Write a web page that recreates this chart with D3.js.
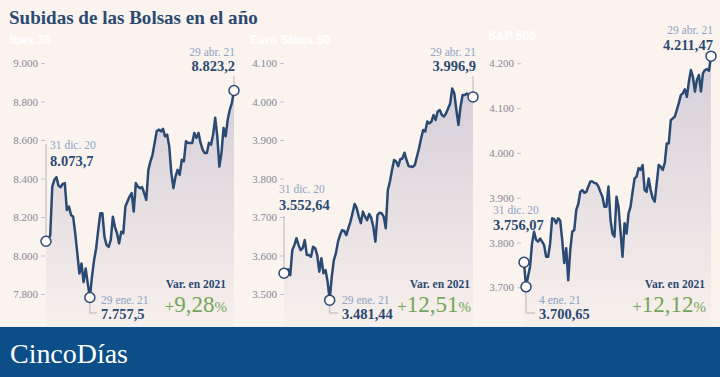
<!DOCTYPE html>
<html>
<head>
<meta charset="utf-8">
<script src="https://cdn.jsdelivr.net/npm/d3@7"></script>
<style>
  body { margin: 0; background: #fbf4ee; }
  svg { display: block; }
</style>
</head>
<body>
<div id="chart"></div>
<script>
// data
const indexNames = ["Ibex 35", "Euro Stoxx 50", "S&P 500"];

const ibexValues = [8074, 8097, 8101, 8358, 8393, 8407, 8362, 8355, 8372, 8376,
  8236, 8254, 8210, 8201, 8115, 8010, 7906, 7958, 7862, 7932,
  7854, 7782, 7888, 7975, 8037, 8132, 8219, 8219, 8097, 8054,
  8045, 8080, 8201, 8149, 8115, 8063, 8123, 8115, 8254, 8280,
  8306, 8324, 8228, 8376, 8358, 8350, 8355, 8324, 8289, 8445,
  8489, 8523, 8585, 8645, 8654, 8645, 8658, 8619, 8628, 8567,
  8428, 8350, 8410, 8445, 8419, 8497, 8489, 8593, 8585, 8585,
  8585, 8637, 8611, 8637, 8585, 8550, 8532, 8532, 8585, 8576,
  8628, 8715, 8619, 8462, 8532, 8663, 8619, 8706, 8758, 8793, 8857];

const stoxxValues = [3554, 3562, 3564, 3549, 3614, 3627, 3645, 3627, 3614, 3619,
  3640, 3601, 3601, 3597, 3623, 3619, 3601, 3558, 3593, 3554,
  3562, 3532, 3484, 3545, 3588, 3606, 3636, 3653, 3666, 3664,
  3653, 3671, 3688, 3710, 3734, 3723, 3701, 3684, 3714, 3701,
  3692, 3708, 3697, 3675, 3636, 3705, 3711, 3710, 3701, 3671,
  3770, 3792, 3822, 3848, 3844, 3832, 3850, 3852, 3867, 3848,
  3832, 3831, 3830, 3835, 3857, 3878, 3904, 3926, 3922, 3948,
  3943, 3948, 3965, 3952, 3974, 3978, 3965, 3961, 3969, 3982,
  3995, 4034, 4021, 3978, 3939, 3987, 4017, 4017, 4021, 4017, 4011, 4012];

const spValues = [3756, 3701, 3724, 3746, 3798, 3824, 3806, 3802, 3809, 3802,
  3794, 3768, 3768, 3798, 3854, 3852, 3843, 3854, 3849, 3806,
  3754, 3787, 3716, 3783, 3824, 3828, 3873, 3886, 3913, 3917,
  3911, 3913, 3925, 3936, 3936, 3933, 3932, 3925, 3913, 3902,
  3880, 3880, 3925, 3852, 3820, 3813, 3902, 3880, 3824, 3768,
  3843, 3820, 3865, 3880, 3913, 3943, 3947, 3966, 3962, 3973,
  3917, 3913, 3943, 3917, 3899, 3891, 3932, 3973, 3969, 3962,
  3977, 4021, 4021, 4073, 4077, 4081, 4096, 4111, 4129, 4133,
  4142, 4125, 4159, 4185, 4170, 4137, 4163, 4174, 4137, 4178,
  4185, 4187, 4183, 4216];

const ibexTicks = [7800, 8000, 8200, 8400, 8600, 8800, 9000];
const stoxxTicks = [3500, 3600, 3700, 3800, 3900, 4000, 4100];
const spTicks = [3700, 3800, 3900, 4000, 4100, 4200];

const startDates = ["31 dic. 20", "31 dic. 20", "31 dic. 20"];
const startLabels = ["8.073,7", "3.552,64", "3.756,07"];
const lowDates = ["29 ene. 21", "29 ene. 21", "4 ene. 21"];
const lowLabels = ["7.757,5", "3.481,44", "3.700,65"];
const endDates = ["29 abr. 21", "29 abr. 21", "29 abr. 21"];
const endLabels = ["8.823,2", "3.996,9", "4.211,47"];
const yearChange = ["9,28", "12,51", "12,12"];

const W = 720, H = 377;
const bg = "#fbf4ee";
const navy = "#2b4a73";
const serif = "'Liberation Serif', serif";

const es = d3.formatLocale({ decimal: ",", thousands: ".", grouping: [3], currency: ["", ""] });
const fmt = es.format(",");

const svg = d3.select("#chart").append("svg")
    .attr("width", W)
    .attr("height", H);

svg.append("rect").attr("width", W).attr("height", H).attr("fill", bg);

const defs = svg.append("defs");
const grad = defs.append("linearGradient")
    .attr("id", "fade")
    .attr("x1", 0).attr("y1", 0).attr("x2", 0).attr("y2", 1);
grad.append("stop").attr("offset", "0%").attr("stop-color", "#d5cfd9");
grad.append("stop").attr("offset", "100%").attr("stop-color", "#f8f0ec");

// title, sized to the width it has in the picture
const title = svg.append("text")
    .attr("x", 9)
    .attr("y", 24)
    .style("font-family", serif)
    .style("font-weight", "bold")
    .style("font-size", "19px")
    .attr("fill", navy)
    .text("Subidas de las Bolsas en el año");
const tw = title.node().getComputedTextLength();
title.style("font-size", (19 * 249 / tw) + "px");

// layout of each panel
const panels = [
  { values: ibexValues, ticks: ibexTicks, x0: 46, x1: 234, axisX: 45, yLo: 294, yHi: 63, titleX: 10, titleY: 44,
    sx: 50, sDate: 149, sVal: 166, sLead: 144,
    lx: 101, lDate: 304, lVal: 319,
    ex: 235, eDate: 56, eVal: 71,
    vx: 227 },
  { values: stoxxValues, ticks: stoxxTicks, x0: 284, x1: 473, axisX: 284, yLo: 294, yHi: 63, titleX: 250, titleY: 44,
    sx: 279, sDate: 193, sVal: 210, sLead: 216,
    lx: 342, lDate: 304, lVal: 319,
    ex: 476, eDate: 56, eVal: 71,
    vx: 471 },
  { values: spValues, ticks: spTicks, x0: 524, x1: 711, axisX: 521, yLo: 287.3, yHi: 63.3, titleX: 488, titleY: 40,
    sx: 493, sDate: 214, sVal: 230, sLead: null,
    lx: 539, lDate: 304, lVal: 319,
    ex: 713, eDate: 34, eVal: 50,
    vx: 706 }
];

panels.forEach((p, i) => {
  const g = svg.append("g");
  const n = p.values.length;
  const x = d3.scaleLinear().domain([0, n - 1]).range([p.x0, p.x1]);
  const y = d3.scaleLinear()
      .domain([p.ticks[0], p.ticks[p.ticks.length - 1]])
      .range([p.yLo, p.yHi]);

  // panel title (white, as in the picture)
  g.append("text")
      .attr("x", p.titleX)
      .attr("y", p.titleY)
      .style("font-family", "'Liberation Sans', sans-serif")
      .style("font-weight", "bold")
      .style("font-size", "12px")
      .attr("fill", "#ffffff")
      .text(indexNames[i]);

  // y axis
  const axis = g.append("g")
      .attr("transform", `translate(${p.axisX},0)`)
      .call(d3.axisLeft(y).tickValues(p.ticks).tickFormat(fmt).tickSize(4).tickPadding(3));
  axis.select(".domain").remove();
  axis.selectAll(".tick line").attr("stroke", "#c4c2c8");
  axis.selectAll(".tick text")
      .attr("fill", "#858797")
      .style("font-family", serif)
      .style("font-size", "11px");

  // area + line
  const area = d3.area()
      .x((d, j) => x(j))
      .y0(327)
      .y1(d => y(d));
  g.append("path")
      .datum(p.values)
      .attr("d", area)
      .attr("fill", "url(#fade)");

  const line = d3.line()
      .x((d, j) => x(j))
      .y(d => y(d));
  g.append("path")
      .datum(p.values)
      .attr("d", line)
      .attr("fill", "none")
      .attr("stroke", navy)
      .attr("stroke-width", 2.5)
      .attr("stroke-linejoin", "round");

  const iLow = d3.minIndex(p.values);
  const iEnd = n - 1;
  const lead = "#b8b6bd";
  const r = 5;

  // leader lines
  if (p.sLead !== null) {
    g.append("line")
        .attr("x1", x(0)).attr("x2", x(0))
        .attr("y1", p.sLead).attr("y2", y(p.values[0]) - r)
        .attr("stroke", lead);
  }
  g.append("path")
      .attr("d", `M${x(iLow)},${y(p.values[iLow]) + r}V313H${p.lx - 4}`)
      .attr("fill", "none")
      .attr("stroke", lead);
  if (y(p.values[iEnd]) - r - (p.eVal + 5) > 2) {
    g.append("line")
        .attr("x1", x(iEnd)).attr("x2", x(iEnd))
        .attr("y1", p.eVal + 5).attr("y2", y(p.values[iEnd]) - r)
        .attr("stroke", lead);
  }

  // marker circles
  [0, iLow, iEnd].forEach(j => {
    g.append("circle")
        .attr("cx", x(j))
        .attr("cy", y(p.values[j]))
        .attr("r", r)
        .attr("fill", "#fdfaf7")
        .attr("stroke", navy)
        .attr("stroke-width", 1.5);
  });

  const dateText = (tx, ty, s, anchor) => g.append("text")
      .attr("x", tx).attr("y", ty)
      .attr("text-anchor", anchor)
      .style("font-family", serif)
      .style("font-size", "11.5px")
      .attr("fill", "#8ea3c8")
      .text(s);
  const valText = (tx, ty, s, anchor) => g.append("text")
      .attr("x", tx).attr("y", ty)
      .attr("text-anchor", anchor)
      .style("font-family", serif)
      .style("font-weight", "bold")
      .style("font-size", "14.5px")
      .attr("fill", navy)
      .text(s);

  dateText(p.sx, p.sDate, startDates[i], "start");
  valText(p.sx, p.sVal, startLabels[i], "start");
  dateText(p.lx, p.lDate, lowDates[i], "start");
  valText(p.lx, p.lVal, lowLabels[i], "start");
  dateText(p.ex, p.eDate, endDates[i], "end");
  valText(p.ex, p.eVal, endLabels[i], "end");

  // change in the year
  g.append("text")
      .attr("x", p.vx - 1).attr("y", 288)
      .attr("text-anchor", "end")
      .style("font-family", serif)
      .style("font-weight", "bold")
      .style("font-size", "11.5px")
      .attr("fill", navy)
      .text("Var. en 2021");
  const v = g.append("text")
      .attr("x", p.vx).attr("y", 312)
      .attr("text-anchor", "end")
      .style("font-family", serif)
      .attr("fill", "#73a659");
  v.append("tspan").style("font-size", "17px").text("+");
  v.append("tspan").style("font-size", "23px").text(yearChange[i]);
  v.append("tspan").style("font-size", "15px").text("%");
});

// footer bar
svg.append("rect")
    .attr("x", 0).attr("y", 327)
    .attr("width", W).attr("height", H - 327)
    .attr("fill", "#0c4f88");
const logo = svg.append("text")
    .attr("x", 10)
    .attr("y", 363)
    .style("font-family", serif)
    .style("font-size", "28px")
    .attr("fill", "#ffffff")
    .text("CincoDías");
const lw = logo.node().getComputedTextLength();
logo.style("font-size", (28 * 118 / lw) + "px");
</script>
</body>
</html>
